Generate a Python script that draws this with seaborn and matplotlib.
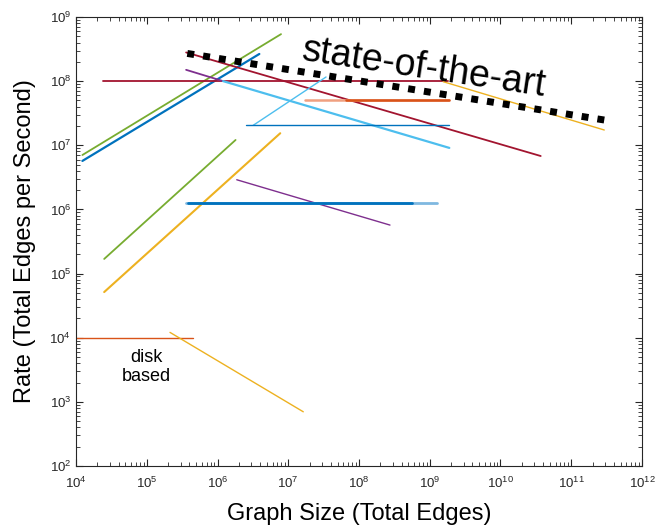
import numpy as np
import pandas as pd
import matplotlib
matplotlib.use("Agg")
import matplotlib.pyplot as plt
from matplotlib.ticker import LogLocator, NullFormatter
import seaborn as sns

# one entry per published system: graph size range (x) and rate range (y)
names = ["green_hi", "blue_hi", "red_flat", "red_diag", "purple_hi", "cyan_down",
         "cyan_up", "blue_thin", "salmon", "orange_flat", "green_lo", "yellow_lo",
         "purple_lo", "blue_light", "blue_thick", "disk_flat", "disk_diag", "yellow_hi"]
x_start = [1.23e4, 1.23e4, 2.43e4, 3.6e5, 3.6e5, 1.2e6, 3.2e6, 2.53e6, 1.73e7, 6.5e7,
           2.5e4, 2.5e4, 1.87e6, 3.6e5, 3.8e5, 1.0e4, 2.13e5, 1.55e9]
x_end = [7.9e6, 3.9e6, 1.8e9, 3.7e10, 1.2e6, 1.89e9, 3.42e7, 1.89e9, 1.89e9, 1.89e9,
         1.8e6, 7.7e6, 2.74e8, 1.25e9, 5.6e8, 4.46e5, 1.63e7, 2.93e11]
y_start = [7.05e6, 5.7e6, 1.0e8, 2.8e8, 1.5e8, 1.0e8, 2.05e7, 2.05e7, 5.1e7, 5.1e7,
           1.69e5, 5.15e4, 2.9e6, 1.27e6, 1.27e6, 1.0e4, 1.21e4, 9.8e7]
y_end = [5.4e8, 2.65e8, 1.0e8, 6.8e6, 1.0e8, 9.1e6, 1.16e8, 2.05e7, 5.1e7, 5.1e7,
         1.21e7, 1.54e7, 5.7e5, 1.27e6, 1.27e6, 1.0e4, 7.0e2, 1.73e7]
colors = ["#77AC30", "#0072BD", "#A2142F", "#A2142F", "#7E2F8E", "#4DBEEE",
          "#4DBEEE", "#0072BD", "#F0A080", "#D95319", "#77AC30", "#EDB120",
          "#7E2F8E", "#7FB8E0", "#0072BD", "#D95319", "#EDB120", "#EDB120"]
widths = [1.3, 1.6, 1.3, 1.3, 1.3, 1.6, 1.0, 1.0, 1.8, 1.8, 1.3, 1.5,
          1.0, 2.0, 2.0, 1.0, 1.0, 1.0]

# state-of-the-art frontier
sota_x = [3.74e5, 3.5e11]
sota_y = [2.7e8, 2.4e7]

sns.set_style("ticks")
plt.rcParams["font.family"] = ["Liberation Sans", "DejaVu Sans"]
plt.rcParams["text.color"] = "black"
plt.rcParams["axes.labelcolor"] = "black"

fig = plt.figure(figsize=(6.6, 5.29), dpi=100)
ax = fig.add_axes([0.1152, 0.1191, 0.8575, 0.8488])

for i in range(len(names)):
    df = pd.DataFrame({"x": [x_start[i], x_end[i]], "y": [y_start[i], y_end[i]]})
    sns.lineplot(data=df, x="x", y="y", color=colors[i], linewidth=widths[i],
                 sort=False, ax=ax)

sota = pd.DataFrame({"x": sota_x, "y": sota_y})
sns.lineplot(data=sota, x="x", y="y", color="black", linewidth=5, sort=False, ax=ax)
ax.lines[-1].set_linestyle((0, (1, 1.3)))
ax.lines[-1].set_dash_capstyle("butt")

ax.set_xscale("log")
ax.set_yscale("log")
ax.set_xlim(1e4, 1e12)
ax.set_ylim(1e2, 1e9)
ax.xaxis.set_major_locator(LogLocator(base=10, numticks=20))
ax.yaxis.set_major_locator(LogLocator(base=10, numticks=20))
ax.xaxis.set_minor_locator(LogLocator(base=10, subs=np.arange(2, 10), numticks=200))
ax.yaxis.set_minor_locator(LogLocator(base=10, subs=np.arange(2, 10), numticks=200))
ax.xaxis.set_minor_formatter(NullFormatter())
ax.yaxis.set_minor_formatter(NullFormatter())
ax.tick_params(which="both", direction="in", top=True, right=True,
               labelsize=9.5, colors="#262626")
ax.tick_params(which="major", length=5, width=0.8)
ax.tick_params(axis="x", which="major", pad=7)
ax.tick_params(which="minor", length=3, width=0.6)
for s in ax.spines.values():
    s.set_color("#262626")
    s.set_linewidth(0.8)

ax.set_xlabel("Graph Size (Total Edges)", fontsize=17)
ax.set_ylabel("Rate (Total Edges per Second)", fontsize=17)
ax.xaxis.set_label_coords(0.5, -0.083)
ax.yaxis.set_label_coords(-0.07, 0.5)

ax.text(8.3e8, 1.6e8, "state-of-the-art", fontsize=27, rotation=-8.5,
        ha="center", va="center", color="black")
ax.text(9.8e4, 3.5e3, "disk\nbased", fontsize=13, ha="center", va="center",
        linespacing=1.1, color="black")

fig.savefig("out.png", dpi=100)
